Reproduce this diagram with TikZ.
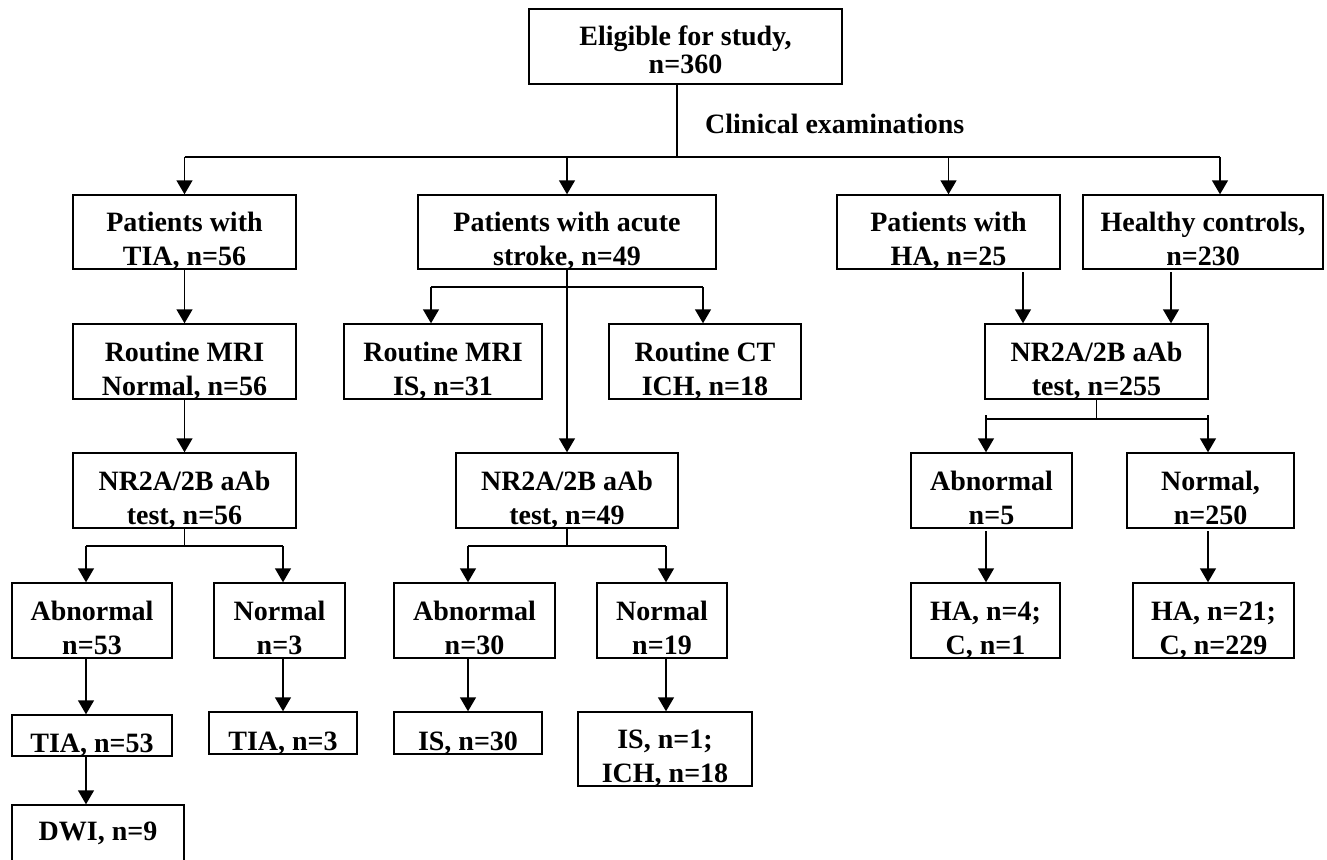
\documentclass[tikz,border=0pt]{standalone}
\usepackage{fontspec}
\setmainfont{Liberation Serif}
\usetikzlibrary{arrows.meta}
\newcommand\flowbox[6]{%
  \node[bx, minimum width={#4-#2}, minimum height={#5-#3}] (#1) at ({(#2+#4)/2},{(#3+#5)/2}) {};
  \node[tx] (#1-t) at ([yshift=-5.7pt]#1.south) {#6};}
\begin{document}
\begin{tikzpicture}[x=1pt,y=-1pt,
  bx/.style={draw, line width=1.4pt, inner sep=0pt},
  tx/.style={font=\fontsize{28}{34}\selectfont\bfseries, align=center, inner sep=0pt, anchor=south, execute at end node=\strut},
  ln/.style={line width=1.4pt},
  arr/.style={line width=1.4pt, -{Triangle[length=14pt,width=16pt]}}]
\useasboundingbox (0,0) rectangle (1327,859);
\clip (0,0) rectangle (1327,859);

% top
\node[bx, minimum width=313, minimum height=75] (top) at (685.5,46.5) {};
\node[font=\fontsize{28}{28}\selectfont\bfseries, align=center, inner sep=0pt, anchor=south, execute at end node=\strut] (top-t) at ([yshift=2.6pt]top.south) {Eligible for study,\\n=360};
\node[font=\fontsize{28}{34}\selectfont\bfseries, anchor=base west, inner sep=0pt] (clin) at (705,133) {Clinical examinations};

% row 2
\flowbox{tia}{73}{195}{296}{269}{Patients with\\TIA, n=56}
\flowbox{stroke}{418}{195}{716}{269}{Patients with acute\\stroke, n=49}
\flowbox{ha}{837}{195}{1060}{269}{Patients with\\HA, n=25}
\flowbox{hc}{1083}{195}{1323}{269}{Healthy controls,\\n=230}

% row 3
\flowbox{mri1}{73}{324}{296}{399}{Routine MRI\\Normal, n=56}
\flowbox{mri2}{344}{324}{542}{399}{Routine MRI\\IS, n=31}
\flowbox{ct}{609}{324}{801}{399}{Routine CT\\ICH, n=18}
\flowbox{nr3}{985}{324}{1208}{399}{NR2A/2B aAb\\test, n=255}

% row 4
\flowbox{nr1}{73}{453}{296}{528}{NR2A/2B aAb\\test, n=56}
\flowbox{nr2}{456}{453}{678}{528}{NR2A/2B aAb\\test, n=49}
\flowbox{ab3}{911}{453}{1072}{528}{Abnormal\\n=5}
\flowbox{no3}{1127}{453}{1294}{528}{Normal,\\n=250}

% row 5
\flowbox{ab1}{12}{583}{172}{658}{Abnormal\\n=53}
\flowbox{no1}{214}{583}{345}{658}{Normal\\n=3}
\flowbox{ab2}{394}{583}{555}{658}{Abnormal\\n=30}
\flowbox{no2}{597}{583}{727}{658}{Normal\\n=19}
\flowbox{ha4}{911}{583}{1060}{658}{HA, n=4;\\C, n=1}
\flowbox{ha21}{1133}{583}{1294}{658}{HA, n=21;\\C, n=229}

% row 6
\flowbox{tia53}{12}{715}{172}{756}{TIA, n=53}
\flowbox{tia3}{209}{712}{357}{754}{TIA, n=3}
\flowbox{is30}{394}{712}{542}{754}{IS, n=30}
\flowbox{ich}{578}{712}{752}{786}{IS, n=1;\\ICH, n=18}

% DWI (bottom edge outside the picture)
\node[bx, minimum width=172, minimum height=75] (dwi) at (98,842.5) {};
\node[font=\fontsize{28}{34}\selectfont\bfseries, anchor=base, inner sep=0pt] (dwi-t) at (98,840) {DWI, n=9};

% connectors: top level
\coordinate (tdrop) at (677,157);
\coordinate (hubL) at (184.5,157);
\coordinate (hubR) at (1220,157);
\draw[ln] (tdrop |- top.south) -- (tdrop);
\draw[ln] (hubL) -- (hubR);
\draw[arr] (hubL) -- (tia.north);
\draw[arr] (stroke.north |- hubL) -- (stroke.north);
\draw[arr] (ha.north |- hubL) -- (ha.north);
\draw[arr] (hubR) -- (hubR |- hc.north);

% TIA column
\draw[arr] (tia.south) -- (mri1.north);
\draw[arr] (mri1.south) -- (nr1.north);
\coordinate (b1) at (184.5,546);
\coordinate (b1l) at (86,546);
\coordinate (b1r) at (283,546);
\draw[ln] (nr1.south) -- (b1);
\draw[ln] (b1l) -- (b1r);
\draw[arr] (b1l) -- (b1l |- ab1.north);
\draw[arr] (b1r) -- (b1r |- no1.north);
\draw[arr] (b1l |- ab1.south) -- (b1l |- tia53.north);
\draw[arr] (b1r |- no1.south) -- (b1r |- tia3.north);
\draw[arr] (b1l |- tia53.south) -- (b1l |- dwi.north);

% stroke column
\draw[arr] (stroke.south) -- (nr2.north);
\coordinate (b2l) at (431,287);
\coordinate (b2r) at (703,287);
\draw[ln] (b2l) -- (b2r);
\draw[arr] (b2l) -- (b2l |- mri2.north);
\draw[arr] (b2r) -- (b2r |- ct.north);
\coordinate (b3) at (567,546);
\coordinate (b3l) at (468,546);
\coordinate (b3r) at (666,546);
\draw[ln] (nr2.south) -- (b3);
\draw[ln] (b3l) -- (b3r);
\draw[arr] (b3l) -- (b3l |- ab2.north);
\draw[arr] (b3r) -- (b3r |- no2.north);
\draw[arr] (b3l |- ab2.south) -- (b3l |- is30.north);
\draw[arr] (b3r |- no2.south) -- (b3r |- ich.north);

% right column
\coordinate (c1) at (1023,272);
\coordinate (c2) at (1171,272);
\draw[arr] (c1) -- (c1 |- nr3.north);
\draw[arr] (c2) -- (c2 |- nr3.north);
\coordinate (b4) at (1096.5,419);
\coordinate (b4l) at (986,419);
\coordinate (b4r) at (1208,419);
\draw[ln] (nr3.south) -- (b4);
\draw[ln] (b4l) -- (b4r);
\draw[arr] ([yshift=4pt]b4l) -- (b4l |- ab3.north);
\draw[arr] ([yshift=4pt]b4r) -- (b4r |- no3.north);
\coordinate (d1) at (986,531);
\coordinate (d2) at (1208,531);
\draw[arr] (d1) -- (d1 |- ha4.north);
\draw[arr] (d2) -- (d2 |- ha21.north);
\end{tikzpicture}
\end{document}
